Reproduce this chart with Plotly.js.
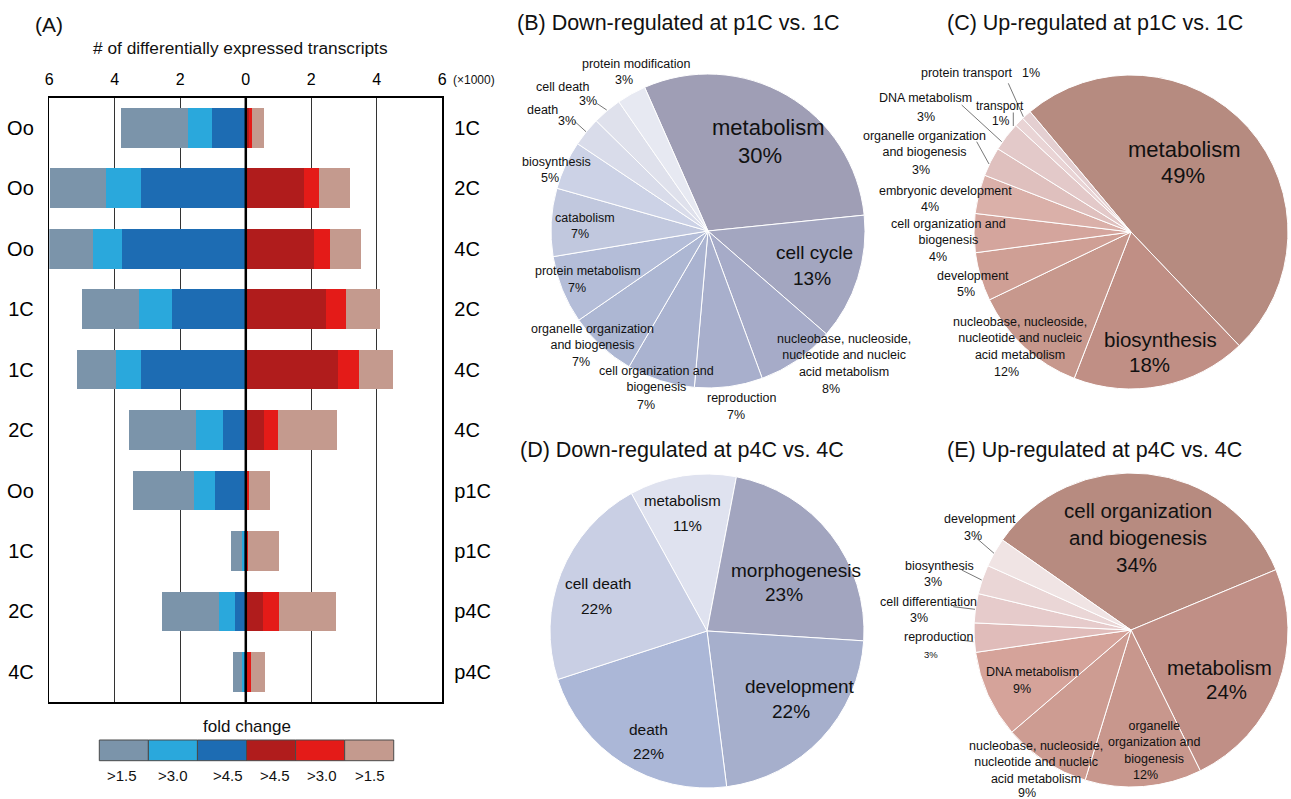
<!DOCTYPE html>
<html>
<head>
<meta charset="utf-8">
<script src="https://cdn.plot.ly/plotly-3.0.1.min.js"></script>
<style>html,body{margin:0;padding:0;background:#fff;} #chart{width:1291px;height:799px;}</style>
</head>
<body>
<div id="chart"></div>
<script>
// ---------------- DATA ----------------
// (A) differentially expressed transcripts (x1000), cumulative by fold-change threshold
const rowsLeft  = ['Oo','Oo','Oo','1C','1C','2C','Oo','1C','2C','4C'];
const rowsRight = ['1C','2C','4C','2C','4C','4C','p1C','p1C','p4C','p4C'];
const down15 = [3.82, 5.98, 6.00, 5.01, 5.14, 3.56, 3.45, 0.44, 2.56, 0.38];
const down30 = [1.77, 4.27, 4.66, 3.26, 3.95, 1.52, 1.58, 0.13, 0.82, 0.13];
const down45 = [1.02, 3.20, 3.77, 2.24, 3.19, 0.70, 0.94, 0.06, 0.34, 0.07];
const up45   = [0.10, 1.78, 2.09, 2.46, 2.83, 0.57, 0.03, 0.03, 0.53, 0.05];
const up30   = [0.18, 2.22, 2.58, 3.06, 3.46, 0.98, 0.11, 0.08, 1.02, 0.15];
const up15   = [0.57, 3.17, 3.53, 4.11, 4.50, 2.77, 0.73, 1.02, 2.76, 0.59];
const xTickVals = [-6,-4,-2,0,2,4,6];
const xTickText = ['6','4','2','0','2','4','6'];
const legendLabels = ['>1.5','>3.0','>4.5','>4.5','>3.0','>1.5'];

// (B) Down-regulated at p1C vs. 1C
const pieBLabels = ['metabolism','cell cycle','nucleobase, nucleoside,<br>nucleotide and nucleic<br>acid metabolism','reproduction','cell organization and<br>biogenesis','organelle organization<br>and biogenesis','protein metabolism','catabolism','biosynthesis','death','cell death','protein modification'];
const pieBValues = [30,13,8,7,7,7,7,7,5,3,3,3];
// (C) Up-regulated at p1C vs. 1C
const pieCLabels = ['metabolism','biosynthesis','nucleobase, nucleoside,<br>nucleotide and nucleic<br>acid metabolism','development','cell organization and<br>biogenesis','embryonic development','organelle organization<br>and biogenesis','DNA metabolism','transport','protein transport'];
const pieCValues = [49,18,12,5,4,4,3,3,1,1];
// (D) Down-regulated at p4C vs. 4C
const pieDLabels = ['metabolism','morphogenesis','development','death','cell death'];
const pieDValues = [11,23,22,22,22];
// (E) Up-regulated at p4C vs. 4C
const pieELabels = ['cell organization<br>and biogenesis','metabolism','organelle<br>organization and<br>biogenesis','nucleobase, nucleoside,<br>nucleotide and nucleic<br>acid metabolism','DNA metabolism','reproduction','cell differentiation','biosynthesis','development'];
const pieEValues = [34,24,12,9,9,3,3,3,3];

// ---------------- STYLE / LAYOUT ----------------
const W = 1291, H = 799;
const FONT = 'Liberation Sans, Arial, Helvetica, sans-serif';
const TXT = '#111';
const X = p => p / W;
const Y = p => 1 - p / H;

const barColors = {d15:'#7b94aa', d30:'#2aa8dc', d45:'#1d6cb3', u45:'#b01c1c', u30:'#e41b18', u15:'#c49a8e'};
const legendColors = [barColors.d15, barColors.d30, barColors.d45, barColors.u45, barColors.u30, barColors.u15];

const pieBColors = ['#9f9eb5','#a3a6c0','#a6abc8','#a8afcc','#aab3d0','#adb7d3','#b4bdd8','#c1c8de','#ccd2e6','#d9dcea','#dfe1ec','#e7e9f2'];
const pieCColors = ['#b68b80','#c08f85','#c7988d','#cf9f95','#d4a59d','#dab0a9','#dfc0be','#e3c9c9','#e9d4d5','#e4cfd1'];
const pieDColors = ['#dfe2ef','#a2a5bf','#a6afcc','#abb7d7','#c9cfe4'];
const pieEColors = ['#b78b80','#c08f86','#c8978d','#cd9c92','#d5a39a','#e0bcba','#e6cbcb','#ead6d6','#f0e4e4'];

// pie geometry: [cx, cy, r, rotation]
const geoB = [708, 231, 157, -23.8];
const geoC = [1131, 232, 157, -40];
const geoD = [707, 631, 157, -28.8];
const geoE = [1131, 630, 157, -55];

// label placement per slice: [nameX, nameY, pctX, pctY, nameSize, pctSize]
const posB = [[768,127,760,155,22,22],[814.5,252,811.7,279,19,19],[844,355.7,831,389,12.5,12.5],[742,398,736,415,12.5,12.5],
  [656,379.5,646,405,12.5,12.5],[592,337,581,362,12.5,12.5],[588,271,577,288,12.5,12.5],[585,217.7,579.5,234,12.5,12.5],
  [556,161.7,549.5,177.7,12.5,12.5],[542,110,567,121,12.5,12.5],[563,86.7,588,100.7,12.5,12.5],[636,64.3,624,80.3,12.5,12.5]];
const posC = [[1184,149.3,1182.7,175.7,22,22],[1160,339,1149,364,20.5,20.5],[1020,338.9,1006.7,372,12.5,12.5],[973,275.7,966,292.3,12.5,12.5],
  [948,232,937.7,257,12.5,12.5],[945,191,930,206.7,12.5,12.5],[924,144.2,920.5,170,12.5,12.5],[925,97.7,926,117.3,12.5,12.5],
  [1000,106,1001,121,12,12],[967,73,1030.5,73,12.5,12.5]];
const posD = [[683,500.7,687,525.3,15,15],[795.5,570.7,784,594.3,19,19],[800,686.7,791,711.7,19,19],[648.3,729.3,648,753.3,15.5,15.5],[598,583.3,596,608.3,15.5,15.5]];
const posE = [[1138,524,1136.7,564.3,20.5,20.5],[1219.7,667.3,1226.7,691.7,20.5,20.5],[1154,742,1145.8,775,12.5,12.5],[1036,762.3,1027,793.3,12.5,12.5],
  [1032,672.3,1022,689,12.5,12.5],[939.3,637.3,931,654.3,12.5,9.5],[928.5,601.7,918.7,617.7,12.5,12.5],[939.7,566,933,582,12.5,12.5],[980,519.3,973,535.7,12.5,12.5]];

// leader lines [x0,y0,x1,y1] in pixels
const leaders = [
  [596.7,103.3,606.7,110],[575,121.7,586,131.7],
  [1008.3,83.3,1023.3,116.7],[961.7,105,1001.7,141.7],[1013.3,112.5,1013.3,126],[976.7,141.7,989,164],
  [976.7,538.3,994,553.3],[961.7,570,981.7,580],[953.3,606.7,975,609.3],[960,640,973.3,641.7]
];

// ---------------- BUILD ----------------
const idx = rowsLeft.map((_, i) => i);
const neg = a => a.map(v => -v);
function bar(xv, color, name) {
  return {type:'bar', orientation:'h', x:xv, y:idx, width:0.657, name:name,
    marker:{color:color, line:{width:0}}, showlegend:false, hoverinfo:'x+y'};
}
const traces = [
  bar(neg(down15), barColors.d15, 'down >1.5'),
  bar(neg(down30), barColors.d30, 'down >3.0'),
  bar(neg(down45), barColors.d45, 'down >4.5'),
  bar(up15, barColors.u15, 'up >1.5'),
  bar(up30, barColors.u30, 'up >3.0'),
  bar(up45, barColors.u45, 'up >4.5'),
  {type:'scatter', x:[], y:[], yaxis:'y2', showlegend:false, hoverinfo:'skip'}
];

function pie(labels, values, colors, geo) {
  const [cx, cy, r, rot] = geo;
  return {type:'pie', labels:labels, values:values, sort:false, direction:'clockwise', rotation:rot,
    marker:{colors:colors, line:{color:'#ffffff', width:1}}, textinfo:'none', hoverinfo:'label+percent',
    showlegend:false, domain:{x:[X(cx - r), X(cx + r)], y:[Y(cy + r), Y(cy - r)]}};
}
traces.push(pie(pieBLabels, pieBValues, pieBColors, geoB));
traces.push(pie(pieCLabels, pieCValues, pieCColors, geoC));
traces.push(pie(pieDLabels, pieDValues, pieDColors, geoD));
traces.push(pie(pieELabels, pieEValues, pieEColors, geoE));

const annotations = [];
function ann(text, px, py, size, extra) {
  annotations.push(Object.assign({text:text, xref:'paper', yref:'paper', x:X(px), y:Y(py),
    xanchor:'center', yanchor:'middle', showarrow:false, font:{family:FONT, size:size, color:TXT}}, extra || {}));
}
function pieLabels(labels, values, pos) {
  labels.forEach((lab, i) => {
    const p = pos[i];
    ann(lab, p[0], p[1], p[4]);
    ann(values[i] + '%', p[2], p[3], p[5]);
  });
}
pieLabels(pieBLabels, pieBValues, posB);
pieLabels(pieCLabels, pieCValues, posC);
pieLabels(pieDLabels, pieDValues, posD);
pieLabels(pieELabels, pieEValues, posE);

// titles
ann('(A)', 48.5, 24, 21);
ann('# of differentially expressed transcripts', 240.5, 48, 17.3);
ann('(×1000)', 474, 80.3, 12);
ann('fold change', 247, 726, 17);
ann('(B) Down-regulated at p1C vs. 1C', 678.5, 23, 21.5);
ann('(C) Up-regulated at p1C vs. 1C', 1095, 23, 21.5);
ann('(D) Down-regulated at p4C vs. 4C', 681.7, 450, 21.5);
ann('(E) Up-regulated at p4C vs. 4C', 1094, 450, 21.5);

// legend labels
const legendLabelX = [121.7,172.7,228.3,275.3,322.3,369.5];
legendLabels.forEach((t, i) => ann(t, legendLabelX[i], 775.3, 15));

const shapes = [];
// zero line above bars
shapes.push({type:'line', xref:'x', yref:'y', x0:0, x1:0, y0:-0.5, y1:9.5, line:{color:'#000', width:2.5}, layer:'above'});
// legend colour boxes
const lx0 = 99.3, lw = 49.07;
legendColors.forEach((c, i) => {
  shapes.push({type:'rect', xref:'paper', yref:'paper', x0:X(lx0 + i*lw), x1:X(lx0 + (i+1)*lw), y0:Y(760.7), y1:Y(740),
    fillcolor:c, line:{color:'#4a4a4a', width:1}});
});
leaders.forEach(l => shapes.push({type:'line', xref:'paper', yref:'paper', x0:X(l[0]), y0:Y(l[1]), x1:X(l[2]), y1:Y(l[3]),
  line:{color:'#555', width:0.8}}));

const layout = {
  width:W, height:H, margin:{l:0, r:0, t:0, b:0}, paper_bgcolor:'#fff', plot_bgcolor:'#fff',
  barmode:'overlay', bargap:0, font:{family:FONT, color:TXT},
  xaxis:{domain:[X(49.3), X(442.3)], range:[-6,6], side:'top', tickmode:'array', tickvals:xTickVals, ticktext:xTickText,
    showgrid:true, gridcolor:'#333', gridwidth:1.3, zeroline:false, showline:true, mirror:true, linecolor:'#000', linewidth:1.5,
    ticks:'outside', ticklen:5, tickcolor:'rgba(0,0,0,0)', tickfont:{size:16, color:'#000', family:FONT}, fixedrange:true},
  yaxis:{domain:[Y(702), Y(97.7)], range:[9.5,-0.5], tickmode:'array', tickvals:idx, ticktext:rowsLeft,
    showgrid:false, zeroline:false, showline:true, mirror:true, linecolor:'#000', linewidth:1.5,
    ticks:'outside', ticklen:10, tickcolor:'rgba(0,0,0,0)', tickfont:{size:20, color:'#000', family:FONT}, fixedrange:true},
  yaxis2:{overlaying:'y', side:'right', anchor:'x', range:[9.5,-0.5], tickmode:'array', tickvals:idx, ticktext:rowsRight,
    showgrid:false, zeroline:false, showline:false, ticks:'outside', ticklen:7, tickcolor:'rgba(0,0,0,0)',
    tickfont:{size:20, color:'#000', family:FONT}, fixedrange:true},
  annotations:annotations, shapes:shapes
};

Plotly.newPlot('chart', traces, layout, {displayModeBar:false, staticPlot:true});
</script>
</body>
</html>
